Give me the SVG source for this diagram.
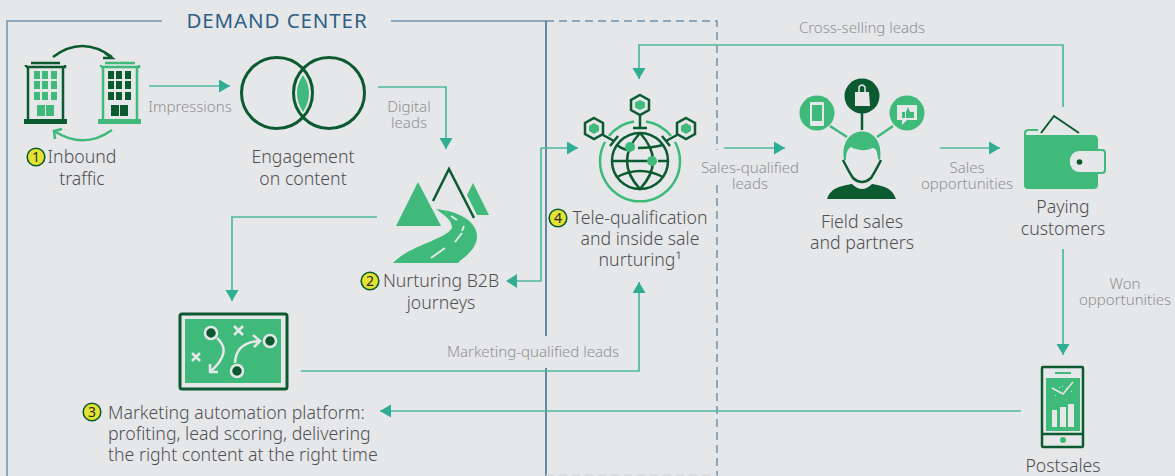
<svg xmlns="http://www.w3.org/2000/svg" width="1175" height="476" viewBox="0 0 1175 476">
<style>
text{font-family:"Noto Sans","Open Sans",sans-serif;}
.t{font-size:17.7px;fill:#4f5053;text-anchor:middle;font-weight:300;}
.l{font-size:15px;fill:#8f9194;text-anchor:middle;font-weight:300;}
.n{font-size:14px;fill:#2b2b2b;text-anchor:middle;}
.c{fill:none;stroke:#4fb9a0;stroke-width:1.7;}
.dg{fill:#0b5a30;}.lg{fill:#3fba7a;}
.sd{fill:none;stroke:#0b5a30;stroke-width:2.5;}
.sl{fill:none;stroke:#3fba7a;stroke-width:2.5;}
.w{fill:none;stroke:#e6e7e9;stroke-width:2.5;}
.b{fill:#e4e32f;stroke:#0b5a30;stroke-width:1.6;}
</style>
<defs>
<marker id="a" markerUnits="userSpaceOnUse" markerWidth="12" markerHeight="14" refX="11" refY="6.5" orient="auto"><path d="M0 0L11 6.5L0 13Z" fill="#2fae94"/></marker>
</defs>
<rect width="1175" height="476" fill="#e6e7e9"/>
<g id="frames" fill="none" stroke-width="1.5">
<path d="M162 21H7V476M391 21H546" stroke="#6f93ad"/>
<path d="M546 21V336M546 368V476" stroke="#3b6a8c"/>
<path d="M546 21H717V150M717 185V476" stroke="#6f93ad" stroke-dasharray="8 5"/>
<path d="M546 475H717" stroke="#d8d9db" stroke-dasharray="8 5"/>
<text x="277" y="28" style="font-size:20.5px;font-weight:400;letter-spacing:.9px;fill:#2c5f85;stroke:none;text-anchor:middle">DEMAND CENTER</text>
</g>
<g id="connectors">
<path class="c" d="M149 86H230" marker-end="url(#a)"/>
<path class="c" d="M378 87H446V149" marker-end="url(#a)"/>
<path class="c" d="M377 217H232V301" marker-end="url(#a)"/>
<path class="c" d="M541 148H578" marker-end="url(#a)"/>
<path class="c" d="M516 281H541V148"/>
<path d="M517 274L506 281L517 288Z" fill="#2fae94"/>
<path class="c" d="M301 371H639V282" marker-end="url(#a)"/>
<path class="c" d="M724 148H785" marker-end="url(#a)"/>
<path class="c" d="M940 148H1000" marker-end="url(#a)"/>
<path class="c" d="M1063 107V45H639V79" marker-end="url(#a)"/>
<path class="c" d="M1063 249V355" marker-end="url(#a)"/>
<path class="c" d="M1021 411H380" marker-end="url(#a)"/>
<path d="M53 57Q82 35 112 57" fill="none" stroke="#0b5a30" stroke-width="2.5"/>
<path d="M105 53L112 58L103 58" fill="none" stroke="#0b5a30" stroke-width="2.5"/>
<path d="M112 130Q84 150 54 131" fill="none" stroke="#3fba7a" stroke-width="2.5"/>
<path d="M55 139L54 131L62 129" fill="none" stroke="#3fba7a" stroke-width="2.5"/>
</g>
<g id="labels">
<text class="l" x="190" y="112">Impressions</text>
<text class="l" x="409" y="112">Digital<tspan x="409" dy="16">leads</tspan></text>
<text class="l" x="533" y="357">Marketing-qualified leads</text>
<text class="l" x="750" y="173">Sales-qualified<tspan x="750" dy="16">leads</tspan></text>
<text class="l" x="967" y="173">Sales<tspan x="967" dy="16">opportunities</tspan></text>
<text class="l" x="862" y="33">Cross-selling leads</text>
<text class="l" x="1125" y="289">Won<tspan x="1125" dy="16">opportunities</tspan></text>
</g>
<g id="inbound-traffic">
<path class="dg" d="M24 119H67V124H24Z"/>
<path class="sd" d="M28 119V67M63 119V67M31 63H60M26 67H65V65M26 67V65"/>
<path class="lg" d="M34 71H40V79H34ZM42 71H48V79H42ZM51 71H57V79H51ZM34 81H40V89H34ZM42 81H48V89H42ZM51 81H57V89H51ZM34 92H40V100H34ZM42 92H48V100H42ZM51 92H57V100H51ZM37 105H45V116H37ZM46 105H54V116H46Z"/>
<path class="lg" d="M98 119H141V124H98Z"/>
<path class="sl" d="M103 119V67M137 119V67M105 63H135M101 67H139V65M101 67V65"/>
<path class="dg" d="M108 71H114V79H108ZM116 71H122V79H116ZM125 71H131V79H125ZM108 81H114V89H108ZM116 81H122V89H116ZM125 81H131V89H125ZM108 92H114V100H108ZM116 92H122V100H116ZM125 92H131V100H125ZM111 105H119V116H111ZM120 105H128V116H120Z"/>
<circle class="b" cx="36" cy="157" r="8.8"/><text class="n" x="36" y="162">1</text>
<text class="t" x="82" y="163">Inbound<tspan x="82" dy="22">traffic</tspan></text>
</g>
<g id="engagement">
<circle cx="277" cy="93" r="35.5" fill="none" stroke="#0b5a30" stroke-width="3"/>
<circle cx="329" cy="93" r="35.5" fill="none" stroke="#0b5a30" stroke-width="3"/>
<path class="lg" d="M303 75Q315 93 303 112Q291 93 303 75Z"/>
<text class="t" x="303" y="163">Engagement<tspan x="303" dy="22">on content</tspan></text>
</g>
<g id="nurturing">
<path class="lg" d="M418 182L441 226H396Z"/>
<path class="lg" d="M473 183L489 215H477L467 195Z"/>
<path fill="none" stroke="#0b5a30" stroke-width="2.5" d="M433 201L449 169L474 218"/>
<path class="lg" d="M436 209C465 212 478 225 477 238C475 252 462 258 458 263H393C410 245 445 240 452 228C452 220 444 215 436 209Z"/>
<path d="M451 216L457 220M464 226L462 231M462 233L455 242M445 248L431 258" stroke="#e6e7e9" stroke-width="2" fill="none"/>
<circle class="b" cx="370" cy="281" r="8.8"/><text class="n" x="370" y="286">2</text>
<text class="t" x="441" y="287">Nurturing B2B<tspan x="441" dy="22">journeys</tspan></text>
</g>
<g id="automation">
<rect x="180" y="314" width="107" height="75" rx="2" fill="#e6e7e9" stroke="#0b5a30" stroke-width="3"/>
<rect x="185" y="319" width="96" height="64" class="lg"/>
<circle cx="211" cy="333" r="6" class="dg" stroke="#e6e7e9" stroke-width="2.5"/>
<circle cx="270" cy="341" r="6" class="dg" stroke="#e6e7e9" stroke-width="2.5"/>
<circle cx="237" cy="371" r="6" class="dg" stroke="#e6e7e9" stroke-width="2.5"/>
<path class="w" d="M217 338Q233 352 210 372M210 364V372H218M235 363Q236 342 260 341M253 335L260 341L254 347M234 326L243 335M243 326L234 335M192 353L200 361M200 353L192 361"/>
<circle class="b" cx="92" cy="412" r="8.8"/><text class="n" x="92" y="417">3</text>
<text class="t" style="text-anchor:start" x="108" y="419">Marketing automation platform:<tspan x="108" dy="21">profiting, lead scoring, delivering</tspan><tspan x="108" dy="21">the right content at the right time</tspan></text>
</g>
<g id="tele">
<path class="sl" d="M605 142A40 40 0 1 0 675 142M609 136A40 40 0 0 1 634 121.5M646 121.5A40 40 0 0 1 671 136"/>
<circle cx="640" cy="161" r="28" fill="none" stroke="#0b5a30" stroke-width="2.5"/>
<path class="sd" d="M640 133Q614 161 640 189Q666 161 640 133M612 161H648M658 161H668M617 145Q623 150 630 150M638 148Q652 148 663 145M617 177Q640 165 663 177"/>
<circle cx="630" cy="147" r="5" class="lg"/><circle cx="652" cy="161" r="5" class="lg"/>
<g class="sd">
<path d="M640 95L649 100V110L640 115L631 110V100Z"/><path d="M640 115V128M633 128H647"/>
<path d="M594 118L603 123V134L594 139L585 134V123Z"/><path d="M603 135L614 141M618 136L610 146"/>
<path d="M686 118L695 123V134L686 139L677 134V123Z"/><path d="M677 135L666 141M662 136L670 146"/>
</g>
<path class="lg" d="M640 100L645 102.5V107.5L640 110L635 107.5V102.5Z"/>
<path class="lg" d="M594 123L599 126V131L594 134L589 131V126Z"/>
<path class="lg" d="M686 123L691 126V131L686 134L681 131V126Z"/>
<circle class="b" cx="558" cy="218" r="8.8"/><text class="n" x="558" y="223">4</text>
<text class="t" x="640" y="224">Tele-qualification<tspan x="640" dy="21">and inside sale</tspan><tspan x="640" dy="21">nurturing¹</tspan></text>
</g>
<g id="field-sales">
<circle cx="817" cy="113" r="17.5" class="lg"/><circle cx="862" cy="96" r="17.5" class="dg"/><circle cx="907" cy="113" r="17.5" class="lg"/>
<path d="M830 126L847 137M893 126L877 137" stroke-width="2.5" fill="none" stroke="#3fba7a"/>
<path d="M862 113V130" stroke="#0b5a30" stroke-width="2.5"/>
<rect x="810" y="102" width="14" height="24" rx="1" fill="#e6e7e9"/><rect x="812" y="105" width="10" height="16" class="lg"/>
<path d="M855 92H869L870 106H855Z" fill="#e6e7e9"/><path d="M859 92V87Q862 83 865 87V92" fill="none" stroke="#e6e7e9" stroke-width="1.5"/>
<path d="M897 105H917V120H907L902 125V120H897Z" fill="#e6e7e9"/><path d="M902 112H905V118H902ZM906 112L908 107L910 112H914V118H906Z" class="lg"/>
<path class="lg" d="M844 160C838 122 886 122 880 160L878 159C877 150 876 148 872 148C868 151 858 151 851 147C846 150 846 156 846 160Z"/>
<path d="M843 160C847 168 849 172 853 178Q862 186 871 178C875 172 877 168 881 160" fill="none" stroke="#0b5a30" stroke-width="2.5"/>
<path class="dg" d="M827 199C831 187 842 186 852 184Q862 194 872 184C882 186 892 187 896 199Z"/>
<text class="t" x="862" y="228">Field sales<tspan x="862" dy="21">and partners</tspan></text>
</g>
<g id="paying">
<path d="M1041 133L1054 116L1079 133" fill="none" stroke="#0b5a30" stroke-width="2"/>
<path class="lg" d="M1024 133Q1024 129 1029 129H1038V131H1028Q1026 131 1026 135H1093Q1098 135 1098 140V185Q1098 189 1093 189H1028Q1024 189 1024 185Z"/>
<path d="M1080 150H1102Q1105 150 1105 153V170Q1105 173 1102 173H1080C1065 173 1065 150 1080 150Z" fill="#e6e7e9" stroke="#3fba7a" stroke-width="2"/>
<circle cx="1079.5" cy="162" r="2.8" class="dg"/>
<text class="t" x="1063" y="213">Paying<tspan x="1063" dy="22">customers</tspan></text>
</g>
<g id="postsales">
<rect x="1042" y="367" width="41" height="80" rx="1" fill="#e6e7e9" stroke="#0b5a30" stroke-width="2.5"/>
<path d="M1042 434H1083" stroke="#0b5a30" stroke-width="2.5"/>
<path d="M1055 373H1071" stroke="#3fba7a" stroke-width="2"/>
<rect x="1046" y="378" width="34" height="53" class="lg"/>
<circle cx="1063" cy="440" r="3" class="lg"/>
<path d="M1052 388L1063 394L1073 382" fill="none" stroke="#e6e7e9" stroke-width="1.5"/>
<path d="M1055 395h1v1h-1ZM1059 387h1v1h-1ZM1066 388h1v1h-1ZM1071 391h1v1h-1ZM1062 386h1v1h-1Z" fill="#e6e7e9"/>
<path d="M1052 410H1057V427H1052ZM1060 407H1066V427H1060ZM1068 404H1074V427H1068Z" fill="#e6e7e9"/>
<text class="t" x="1063" y="472">Postsales</text>
</g>
</svg>
